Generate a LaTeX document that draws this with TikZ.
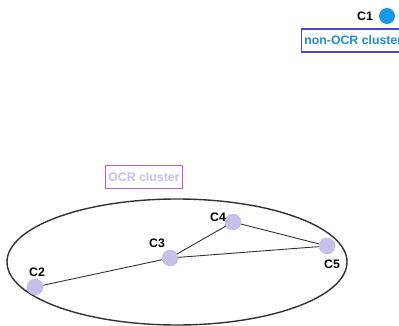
\documentclass[tikz,border=0pt]{standalone}
\usepackage{fontspec}
\setmainfont{Liberation Sans}
\definecolor{lav}{RGB}{200,192,232}
\definecolor{lavedge}{RGB}{140,170,225}
\definecolor{bluedot}{RGB}{22,152,226}
\definecolor{bluebox}{RGB}{70,70,210}
\definecolor{bluetext}{RGB}{30,140,210}
\definecolor{purplebox}{RGB}{176,96,192}
\definecolor{edgegray}{RGB}{50,50,50}
\begin{document}
\begin{tikzpicture}[x=1pt,y=-1pt,
  lbl/.style={font=\fontsize{12.3}{14}\selectfont\bfseries, text=black, inner sep=0pt},
  cnode/.style={circle, minimum size=16pt, inner sep=0pt, fill=lav, draw=lavedge, densely dotted, line width=0.6pt},
  link/.style={draw=edgegray, line width=0.9pt},
  tagbox/.style={font=\fontsize{12.3}{14}\selectfont\bfseries, inner xsep=3pt, minimum height=23pt, line width=1.8pt}]
\useasboundingbox (0,0) rectangle (399,326);

% cluster outline
\draw[edgegray, line width=1.4pt] (177,262) ellipse [x radius=170, y radius=63];

% cluster nodes
\node[cnode] (c2) at (35,287) {};
\node[cnode] (c3) at (170,258) {};
\node[cnode] (c4) at (233,222) {};
\node[cnode] (c5) at (327,246) {};
\node[circle, minimum size=16pt, inner sep=0pt, fill=bluedot] (c1) at (387,16) {};

% edges
\draw[link] (c2) -- (c3);
\draw[link] (c3) -- (c4);
\draw[link] (c4) -- (c5);
\draw[link] (c3) -- (c5);

% node labels
\node[lbl] (t1) at (365,16) {C1};
\node[lbl] (t2) at (37,272) {C2};
\node[lbl] (t3) at (157,243) {C3};
\node[lbl] (t4) at (218,217) {C4};
\node[lbl] (t5) at (332,264) {C5};

% cluster tags
\node[tagbox, draw=bluebox, text=bluetext, anchor=west] (nocr) at (300.5,40.5) {non-OCR cluster};
\node[tagbox, draw=purplebox, text=lav, anchor=west] (ocr) at (104.5,177) {OCR cluster};
\end{tikzpicture}
\end{document}
